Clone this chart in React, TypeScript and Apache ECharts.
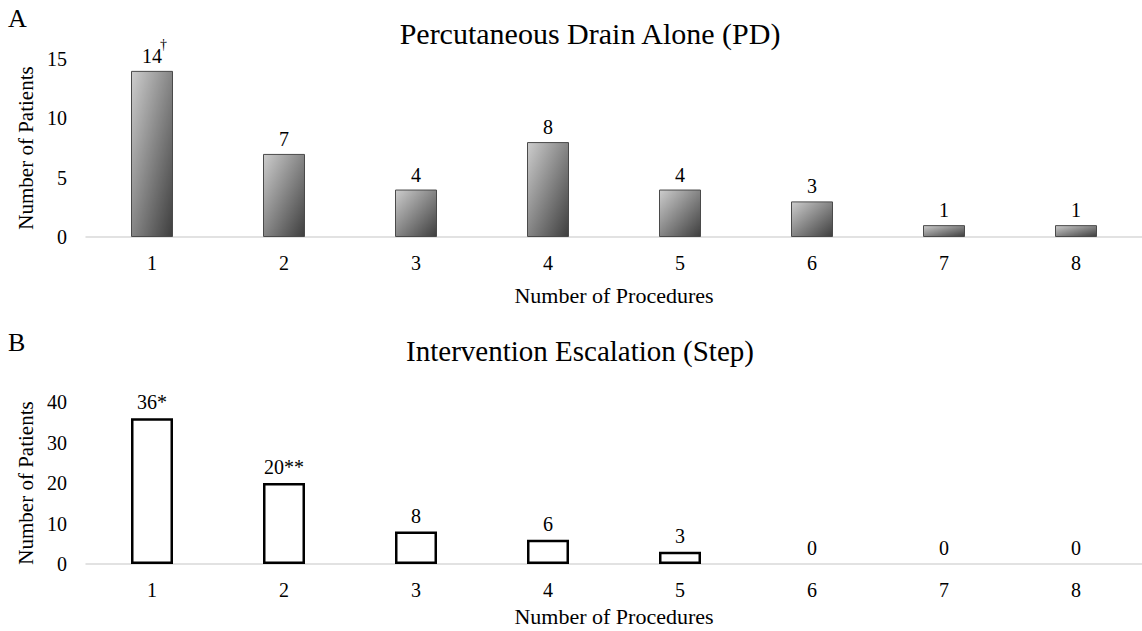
import React, { useEffect, useRef } from "react";
import * as echarts from "echarts";

const categories = ["1", "2", "3", "4", "5", "6", "7", "8"];
const valuesPD = [14, 7, 4, 8, 4, 3, 1, 1];
const notesPD = ["†", "", "", "", "", "", "", ""];
const valuesStep = [36, 20, 8, 6, 3, 0, 0, 0];
const notesStep = ["*", "**", "", "", "", "", "", ""];
const titlePD = "Percutaneous Drain Alone (PD)";
const titleStep = "Intervention Escalation (Step)";
const xName = "Number of Procedures";
const yName = "Number of Patients";

const FONT = "'Liberation Serif', 'Times New Roman', serif";

export default function App() {
  const ref = useRef<HTMLDivElement>(null);
  useEffect(() => {
    if (!ref.current) return;
    const chart = echarts.init(ref.current, null, { renderer: "svg" });
    const gradient = new echarts.graphic.LinearGradient(0, 0, 1, 1, [
      { offset: 0, color: "#cdcdcd" },
      { offset: 1, color: "#3e3e3e" },
    ]);
    const xAxisBase = (gridIndex: number, nameGap: number) => ({
      type: "category" as const,
      gridIndex,
      data: categories,
      axisLine: { lineStyle: { color: "#d9d9d9", width: 1.5 } },
      axisTick: { show: false },
      axisLabel: { fontFamily: FONT, fontSize: 20, color: "#000", margin: 16 },
      name: xName,
      nameLocation: "middle" as const,
      nameGap,
      nameTextStyle: { fontFamily: FONT, fontSize: 22, color: "#000" },
    });
    const yAxisBase = (gridIndex: number, max: number, interval: number) => ({
      type: "value" as const,
      gridIndex,
      min: 0,
      max,
      interval,
      axisLine: { show: false },
      axisTick: { show: false },
      splitLine: { show: false },
      axisLabel: { fontFamily: FONT, fontSize: 20, color: "#000", margin: 19 },
      name: yName,
      nameLocation: "middle" as const,
      nameGap: 45,
      nameTextStyle: { fontFamily: FONT, fontSize: 21, color: "#000" },
    });
    const labelRich = {
      a: { fontFamily: FONT, fontSize: 20, color: "#000", lineHeight: 20, align: "center" },
      sup: { fontFamily: FONT, fontSize: 14, color: "#000", lineHeight: 2, align: "center", padding: [0, 0, 0, 23] },
    };
    const titleStyle = (size: number) => ({ fontFamily: FONT, fontSize: size, fontWeight: "normal", color: "#000" });
    chart.setOption({
      animation: false,
      backgroundColor: "#fff",
      title: [
        { text: titlePD, left: 590, top: 18, padding: 0, textAlign: "center", textStyle: titleStyle(30) },
        { text: titleStep, left: 580, top: 336.5, padding: 0, textAlign: "center", textStyle: titleStyle(29) },
        { text: "A", left: 8, top: 5, padding: 0, textStyle: titleStyle(26) },
        { text: "B", left: 8, top: 329, padding: 0, textStyle: titleStyle(26) },
      ],
      grid: [
        { left: 86, right: -8, top: 59, bottom: 394, containLabel: false },
        { left: 86, right: -8, top: 402, bottom: 67, containLabel: false },
      ],
      xAxis: [xAxisBase(0, 47), xAxisBase(1, 41)],
      yAxis: [yAxisBase(0, 15, 5), yAxisBase(1, 40, 10)],
      series: [
        {
          type: "bar",
          xAxisIndex: 0,
          yAxisIndex: 0,
          barWidth: 42,
          data: valuesPD.map((v) => ({ value: v })),
          itemStyle: { color: gradient, borderColor: "#4a4a4a", borderWidth: 1 },
          label: {
            show: true,
            position: "top",
            distance: 5,
            formatter: (p: any) => {
              const n = notesPD[p.dataIndex];
              return n ? `{sup|${n}}\n{a|${p.value}}` : `{a|${p.value}}`;
            },
            rich: labelRich,
          },
        },
        {
          type: "bar",
          xAxisIndex: 1,
          yAxisIndex: 1,
          barWidth: 42,
          data: valuesStep.map((v) => ({
            value: v,
            itemStyle: v === 0 ? { borderWidth: 0 } : undefined,
          })),
          itemStyle: { color: "#fff", borderColor: "#000", borderWidth: 2.5 },
          label: {
            show: true,
            position: "top",
            distance: 6,
            fontFamily: FONT,
            fontSize: 20,
            color: "#000",
            formatter: (p: any) => `${p.value}${notesStep[p.dataIndex]}`,
          },
        },
      ],
    });
    return () => chart.dispose();
  }, []);
  return (
    <div
      ref={ref}
      style={{ position: "fixed", left: 0, top: 0, width: 1142, height: 631, background: "#fff" }}
    />
  );
}
